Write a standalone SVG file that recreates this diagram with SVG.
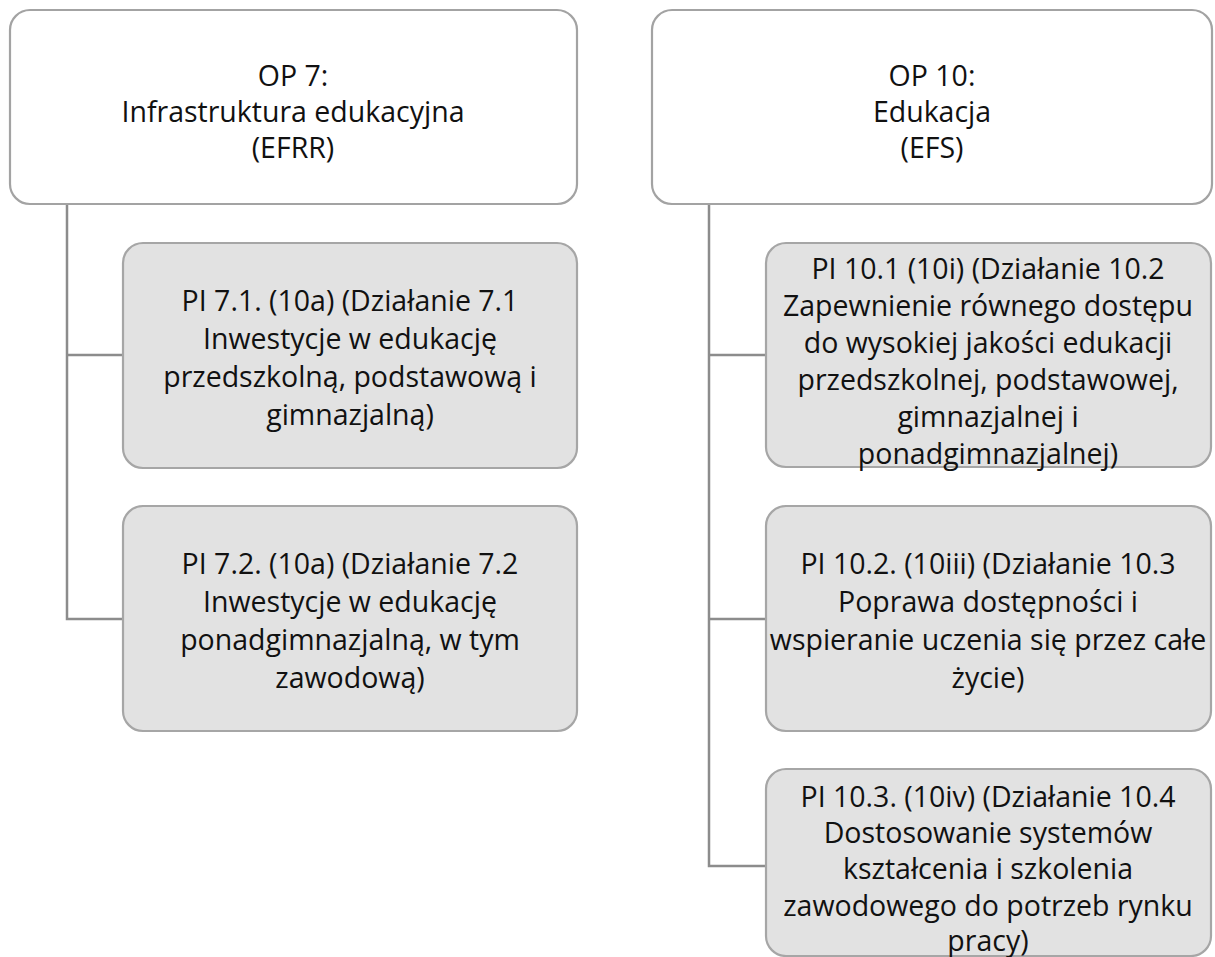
<svg xmlns="http://www.w3.org/2000/svg" width="1215" height="957" viewBox="0 0 1215 957">
<style>
.parent{fill:#ffffff;stroke:#a3a3a3;stroke-width:2.2}
.child{fill:#e2e2e2;stroke:#a6a6a6;stroke-width:2.2}
.conn{fill:none;stroke:#8c8c8c;stroke-width:2.5}
text{font-family:"Open Sans","Noto Sans",sans-serif;font-size:28.5px;fill:#111111;text-anchor:middle}
</style>
<rect width="1215" height="957" fill="#ffffff"/>
<g id="connectors">
<polyline class="conn" points="67,204 67,619 123,619"/>
<line class="conn" x1="67" y1="355" x2="123" y2="355"/>
<polyline class="conn" points="709,204 709,866 766,866"/>
<line class="conn" x1="709" y1="355" x2="766" y2="355"/>
<line class="conn" x1="709" y1="619" x2="766" y2="619"/>
</g>
<g id="op7">
<rect class="parent" x="10" y="10" width="567" height="194" rx="20"/>
<text x="293" y="86">OP 7:</text>
<text x="293" y="122">Infrastruktura edukacyjna</text>
<text x="293" y="158">(EFRR)</text>
</g>
<g id="op10">
<rect class="parent" x="652" y="10" width="560" height="194" rx="20"/>
<text x="932" y="86">OP 10:</text>
<text x="932" y="122">Edukacja</text>
<text x="932" y="158">(EFS)</text>
</g>
<g id="pi71">
<rect class="child" x="123" y="243" width="454" height="225" rx="20"/>
<text x="350" y="311">PI 7.1. (10a) (Działanie 7.1</text>
<text x="350" y="349">Inwestycje w edukację</text>
<text x="350" y="387">przedszkolną, podstawową i</text>
<text x="350" y="425">gimnazjalną)</text>
</g>
<g id="pi72">
<rect class="child" x="123" y="506" width="454" height="225" rx="20"/>
<text x="350" y="574">PI 7.2. (10a) (Działanie 7.2</text>
<text x="350" y="612">Inwestycje w edukację</text>
<text x="350" y="650">ponadgimnazjalną, w tym</text>
<text x="350" y="688">zawodową)</text>
</g>
<g id="pi101">
<rect class="child" x="766" y="243" width="445" height="224" rx="20"/>
<text x="988" y="279">PI 10.1 (10i) (Działanie 10.2</text>
<text x="988" y="316">Zapewnienie równego dostępu</text>
<text x="988" y="353">do wysokiej jakości edukacji</text>
<text x="988" y="390">przedszkolnej, podstawowej,</text>
<text x="988" y="427">gimnazjalnej i</text>
<text x="988" y="464">ponadgimnazjalnej)</text>
</g>
<g id="pi102">
<rect class="child" x="766" y="506" width="445" height="225" rx="20"/>
<text x="988" y="574">PI 10.2. (10iii) (Działanie 10.3</text>
<text x="988" y="612">Poprawa dostępności i</text>
<text x="988" y="650">wspieranie uczenia się przez całe</text>
<text x="988" y="688">życie)</text>
</g>
<g id="pi103">
<rect class="child" x="766" y="769" width="445" height="187" rx="20"/>
<text x="988" y="807">PI 10.3. (10iv) (Działanie 10.4</text>
<text x="988" y="843">Dostosowanie systemów</text>
<text x="988" y="879">kształcenia i szkolenia</text>
<text x="988" y="916">zawodowego do potrzeb rynku</text>
<text x="988" y="951">pracy)</text>
</g>
</svg>
